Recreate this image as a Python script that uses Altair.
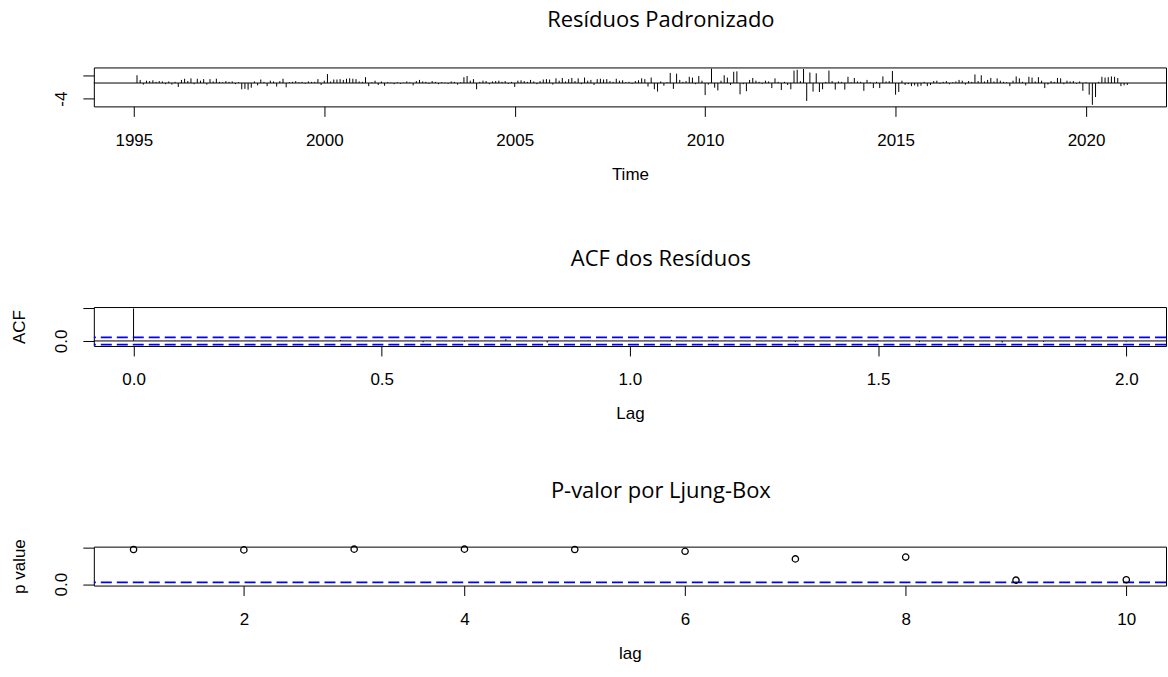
import altair as alt
import pandas as pd

# ---------------- data ----------------
# standardized residuals, monthly, Feb 1995 .. Feb 2021
res_1995 = [2.0, 0.8, -0.4, 0.6, 0.5, 0.7, 0.3, 0.5, 0.4, -0.3, 0.4]
res_1996 = [-0.4, 0.3, -1.0, 0.8, 1.1, 0.5, 1.2, -0.3, 1.1, 0.6, 1.0, -0.4]
res_1997 = [1.0, 0.4, 1.1, 0.3, 0.2, 0.5, 0.3, 0.4, -0.3, 0.2, -1.6, -1.5]
res_1998 = [-1.7, -1.2, 0.4, -0.6, 0.9, 0.3, -0.8, 0.6, 0.4, -0.9, 0.5, 1.1]
res_1999 = [-1.1, 0.2, 0.3, 0.5, 0.2, 0.3, -0.2, 0.4, 0.3, 0.3, 1.0, -0.5]
res_2000 = [0.6, 2.3, 0.4, 0.9, 0.9, 1.0, 0.8, 1.1, 1.2, 1.1, 1.0, 0.4]
res_2001 = [0.3, 1.5, -0.8, 0.2, 0.6, -0.5, 0.4, -0.7, 0.2, 0.1, -0.3, 0.2]
res_2002 = [-0.2, 0.1, 0.4, 0.2, -0.6, 0.5, 0.8, 0.4, 0.3, -0.2, 0.5, 0.3]
res_2003 = [-0.3, 0.2, 0.1, -0.2, 0.4, 0.3, -0.4, 0.2, 1.5, 1.8, 0.6, 1.0]
res_2004 = [-1.6, 0.3, 0.6, 0.5, -0.3, 0.4, 0.5, 0.6, 0.3, 0.5, -0.2, 0.3]
res_2005 = [-1.0, 0.6, 0.7, 0.5, 0.3, 0.8, 0.4, -0.3, 0.5, 0.9, 1.0, 0.9]
res_2006 = [-0.4, 1.2, 0.6, 1.3, 0.4, 1.0, 1.3, 0.5, 1.2, -0.3, 1.4, 0.6]
res_2007 = [0.8, -0.5, 1.0, 1.1, 0.9, 1.0, 0.5, 0.3, 1.1, 0.6, 0.7, 0.2]
res_2008 = [0.3, -0.2, 0.5, 0.7, 1.2, 1.0, -0.9, 1.4, -1.6, -2.2, 0.4, -0.7]
res_2009 = [0.2, 2.6, -1.5, 2.4, 0.8, 0.3, 0.5, 1.6, 1.4, -0.3, 1.8, 0.6]
res_2010 = [-3.1, -0.4, 3.7, -1.2, -1.9, 0.6, 2.0, 1.4, -0.5, 2.9, 3.0, -2.9]
res_2011 = [-0.3, -2.1, 0.8, 1.3, 0.6, 0.3, -0.2, 0.6, 0.4, -1.3, 1.2, 0.3]
res_2012 = [-1.8, 0.3, -0.5, -1.6, 3.2, 3.4, 0.5, 3.6, -4.6, 2.7, -2.2, 2.5]
res_2013 = [-2.3, -1.6, 0.3, 3.2, 0.5, -1.7, 0.4, 0.3, -1.7, 1.6, 0.2, 1.3]
res_2014 = [0.4, 0.3, -2.0, 0.8, 0.2, -1.3, 0.3, -1.3, 1.7, 0.4, 0.5, 3.1]
res_2015 = [-3.0, -2.3, 0.6, -0.5, -0.3, -0.8, -0.6, -0.9, -0.7, 0.3, -0.8, -0.5]
res_2016 = [0.5, 0.6, -0.2, 0.3, 0.5, -0.3, 0.2, 0.4, 0.8, 0.6, -0.4, 0.5]
res_2017 = [0.3, 2.2, 0.5, 2.0, 0.4, 0.8, 1.3, 0.4, 1.2, 0.6, 0.3, 0.2]
res_2018 = [-0.8, 0.6, 1.7, 1.2, 0.3, -0.6, 1.6, 1.4, 0.4, 1.5, 0.6, -1.3]
res_2019 = [-0.4, 0.5, 0.3, 1.3, 1.2, -0.3, 0.6, 0.4, 0.5, -0.2, 0.4, -2.0]
res_2020 = [0.2, -3.0, -5.6, -3.6, 0.3, 1.6, 1.4, 1.5, 1.7, 1.6, 1.3, -0.8]
res_2021 = [-0.6, -0.5]

residuals = (res_1995 + res_1996 + res_1997 + res_1998 + res_1999 + res_2000 +
             res_2001 + res_2002 + res_2003 + res_2004 + res_2005 + res_2006 +
             res_2007 + res_2008 + res_2009 + res_2010 + res_2011 + res_2012 +
             res_2013 + res_2014 + res_2015 + res_2016 + res_2017 + res_2018 +
             res_2019 + res_2020 + res_2021)
start_time = 1995 + 1 / 12
times = [start_time + i / 12 for i in range(len(residuals))]

# ACF of residuals, lags in years (monthly series)
acf_lags = [k / 12 for k in range(25)]
acf_values = [1.0, 0.01, -0.01, 0.01, -0.01, 0.03, 0.0, -0.04, -0.02, 0.06, -0.05,
              0.01, 0.0, 0.03, 0.03, 0.01, -0.03, 0.0, 0.02, -0.03, 0.05, -0.05,
              -0.03, 0.05, -0.02]
acf_ci = 1.96 / (len(residuals) ** 0.5)

# Ljung-Box p-values
lb_lags = [1, 2, 3, 4, 5, 6, 7, 8, 9, 10]
lb_pvalues = [0.96, 0.95, 0.97, 0.97, 0.96, 0.91, 0.70, 0.75, 0.11, 0.12]
lb_ref = 0.05

titles = ["Resíduos Padronizado", "ACF dos Resíduos", "P-valor por Ljung-Box"]

# ---------------- style ----------------
AXF = "Liberation Sans"
TTF = "Open Sans"
FS = 17
W, H = 1074, 39
BLUE = "#0000FF"


def main_title(txt):
    return alt.TitleParams(txt, font=TTF, fontSize=22, fontWeight="normal",
                           color="black", anchor="middle", frame="group",
                           baseline="alphabetic", offset=19, dx=31)


def x_axis(values, fmt, title):
    return alt.Axis(values=values, format=fmt, title=title, grid=False,
                    domain=False, tickSize=10, tickColor="black", tickWidth=1,
                    labelFont=AXF, labelFontSize=FS, labelColor="black",
                    labelPadding=16, labelFlush=False, labelOverlap=False,
                    titleFont=AXF, titleFontSize=FS, titleFontWeight="normal",
                    titleColor="black", titleBaseline="alphabetic", titleY=73)


def y_axis(values, expr, title):
    return alt.Axis(values=values, labelExpr=expr, title=title, grid=False,
                    domain=False, tickSize=11, tickColor="black", tickWidth=1,
                    labelFont=AXF, labelFontSize=FS, labelColor="black",
                    labelAngle=270, labelAlign="center", labelBaseline="bottom",
                    labelPadding=12, labelOverlap=False, labelFlush=False,
                    titleFont=AXF, titleFontSize=FS, titleFontWeight="normal",
                    titleColor="black", titleAngle=270, titleAlign="center",
                    titleBaseline="middle", titleX=-74.5, titleY=H / 2)


# ---------------- panel 1: residuals ----------------
df_res = pd.DataFrame({"t": times, "v": residuals, "z": [0.0] * len(residuals)})
xs1 = alt.Scale(domain=[1993.95, 2022.1], nice=False, zero=False)
ys1 = alt.Scale(domain=[-6, 4], nice=False, zero=False)

p1_h = alt.Chart(df_res).mark_rule(color="black", strokeWidth=1).encode(
    x=alt.X("t:Q", scale=xs1,
            axis=x_axis([1995, 2000, 2005, 2010, 2015, 2020], "d", "Time")),
    y=alt.Y("z:Q", scale=ys1,
            axis=y_axis([-4, -2, 0, 2], "datum.value == -4 ? '-4' : ''", "")),
    y2="v:Q",
)
p1_zero = alt.Chart(pd.DataFrame({"h": [0.0]})).mark_rule(
    color="black", strokeWidth=1).encode(y=alt.Y("h:Q", scale=ys1))
panel1 = alt.layer(p1_h, p1_zero).properties(width=W, height=H,
                                              title=main_title(titles[0]))

# ---------------- panel 2: ACF ----------------
df_acf = pd.DataFrame({"lag": acf_lags, "acf": acf_values,
                       "z": [0.0] * len(acf_lags)})
xs2 = alt.Scale(domain=[-0.08, 2.08], nice=False, zero=False)
ys2 = alt.Scale(domain=[-0.155, 1.044], nice=False, zero=False)

p2_h = alt.Chart(df_acf).mark_rule(color="black", strokeWidth=1).encode(
    x=alt.X("lag:Q", scale=xs2,
            axis=x_axis([0, 0.5, 1.0, 1.5, 2.0], ".1f", "Lag")),
    y=alt.Y("z:Q", scale=ys2,
            axis=y_axis([0, 0.2, 0.4, 0.6, 0.8, 1.0],
                        "datum.value == 0 ? '0.0' : ''", "ACF")),
    y2="acf:Q",
)
p2_zero = alt.Chart(pd.DataFrame({"h": [0.0]})).mark_rule(
    color="black", strokeWidth=1).encode(y=alt.Y("h:Q", scale=ys2))
p2_ci = alt.Chart(pd.DataFrame({"h": [acf_ci, -acf_ci]})).mark_rule(
    color=BLUE, strokeWidth=1.8, strokeDash=[11, 5]).encode(y=alt.Y("h:Q", scale=ys2))
panel2 = alt.layer(p2_h, p2_zero, p2_ci).properties(width=W, height=H,
                                                     title=main_title(titles[1]))

# ---------------- panel 3: Ljung-Box ----------------
df_lb = pd.DataFrame({"lag": lb_lags, "p": lb_pvalues})
xs3 = alt.Scale(domain=[0.64, 10.36], nice=False, zero=False)
ys3 = alt.Scale(domain=[-0.04, 1.04], nice=False, zero=False)

p3_pts = alt.Chart(df_lb).mark_point(shape="circle", filled=False, color="black",
                                     size=40, strokeWidth=1.3, opacity=1).encode(
    x=alt.X("lag:Q", scale=xs3, axis=x_axis([2, 4, 6, 8, 10], "d", "lag")),
    y=alt.Y("p:Q", scale=ys3,
            axis=y_axis([0, 0.2, 0.4, 0.6, 0.8, 1.0],
                        "datum.value == 0 ? '0.0' : ''", "p value")),
)
p3_ref = alt.Chart(pd.DataFrame({"h": [lb_ref]})).mark_rule(
    color=BLUE, strokeWidth=1.8, strokeDash=[11, 5]).encode(y=alt.Y("h:Q", scale=ys3))
panel3 = alt.layer(p3_ref, p3_pts).properties(width=W, height=H,
                                               title=main_title(titles[2]))

chart = alt.vconcat(panel1, panel2, panel3, spacing=201, bounds="flush").properties(
    padding={"left": 10, "top": 7, "right": 0, "bottom": 0},
    background="white",
).configure_view(stroke="black", strokeWidth=1).resolve_scale(x="independent", y="independent")

chart.save("out.html", embed_options={"renderer": "svg", "actions": False})
